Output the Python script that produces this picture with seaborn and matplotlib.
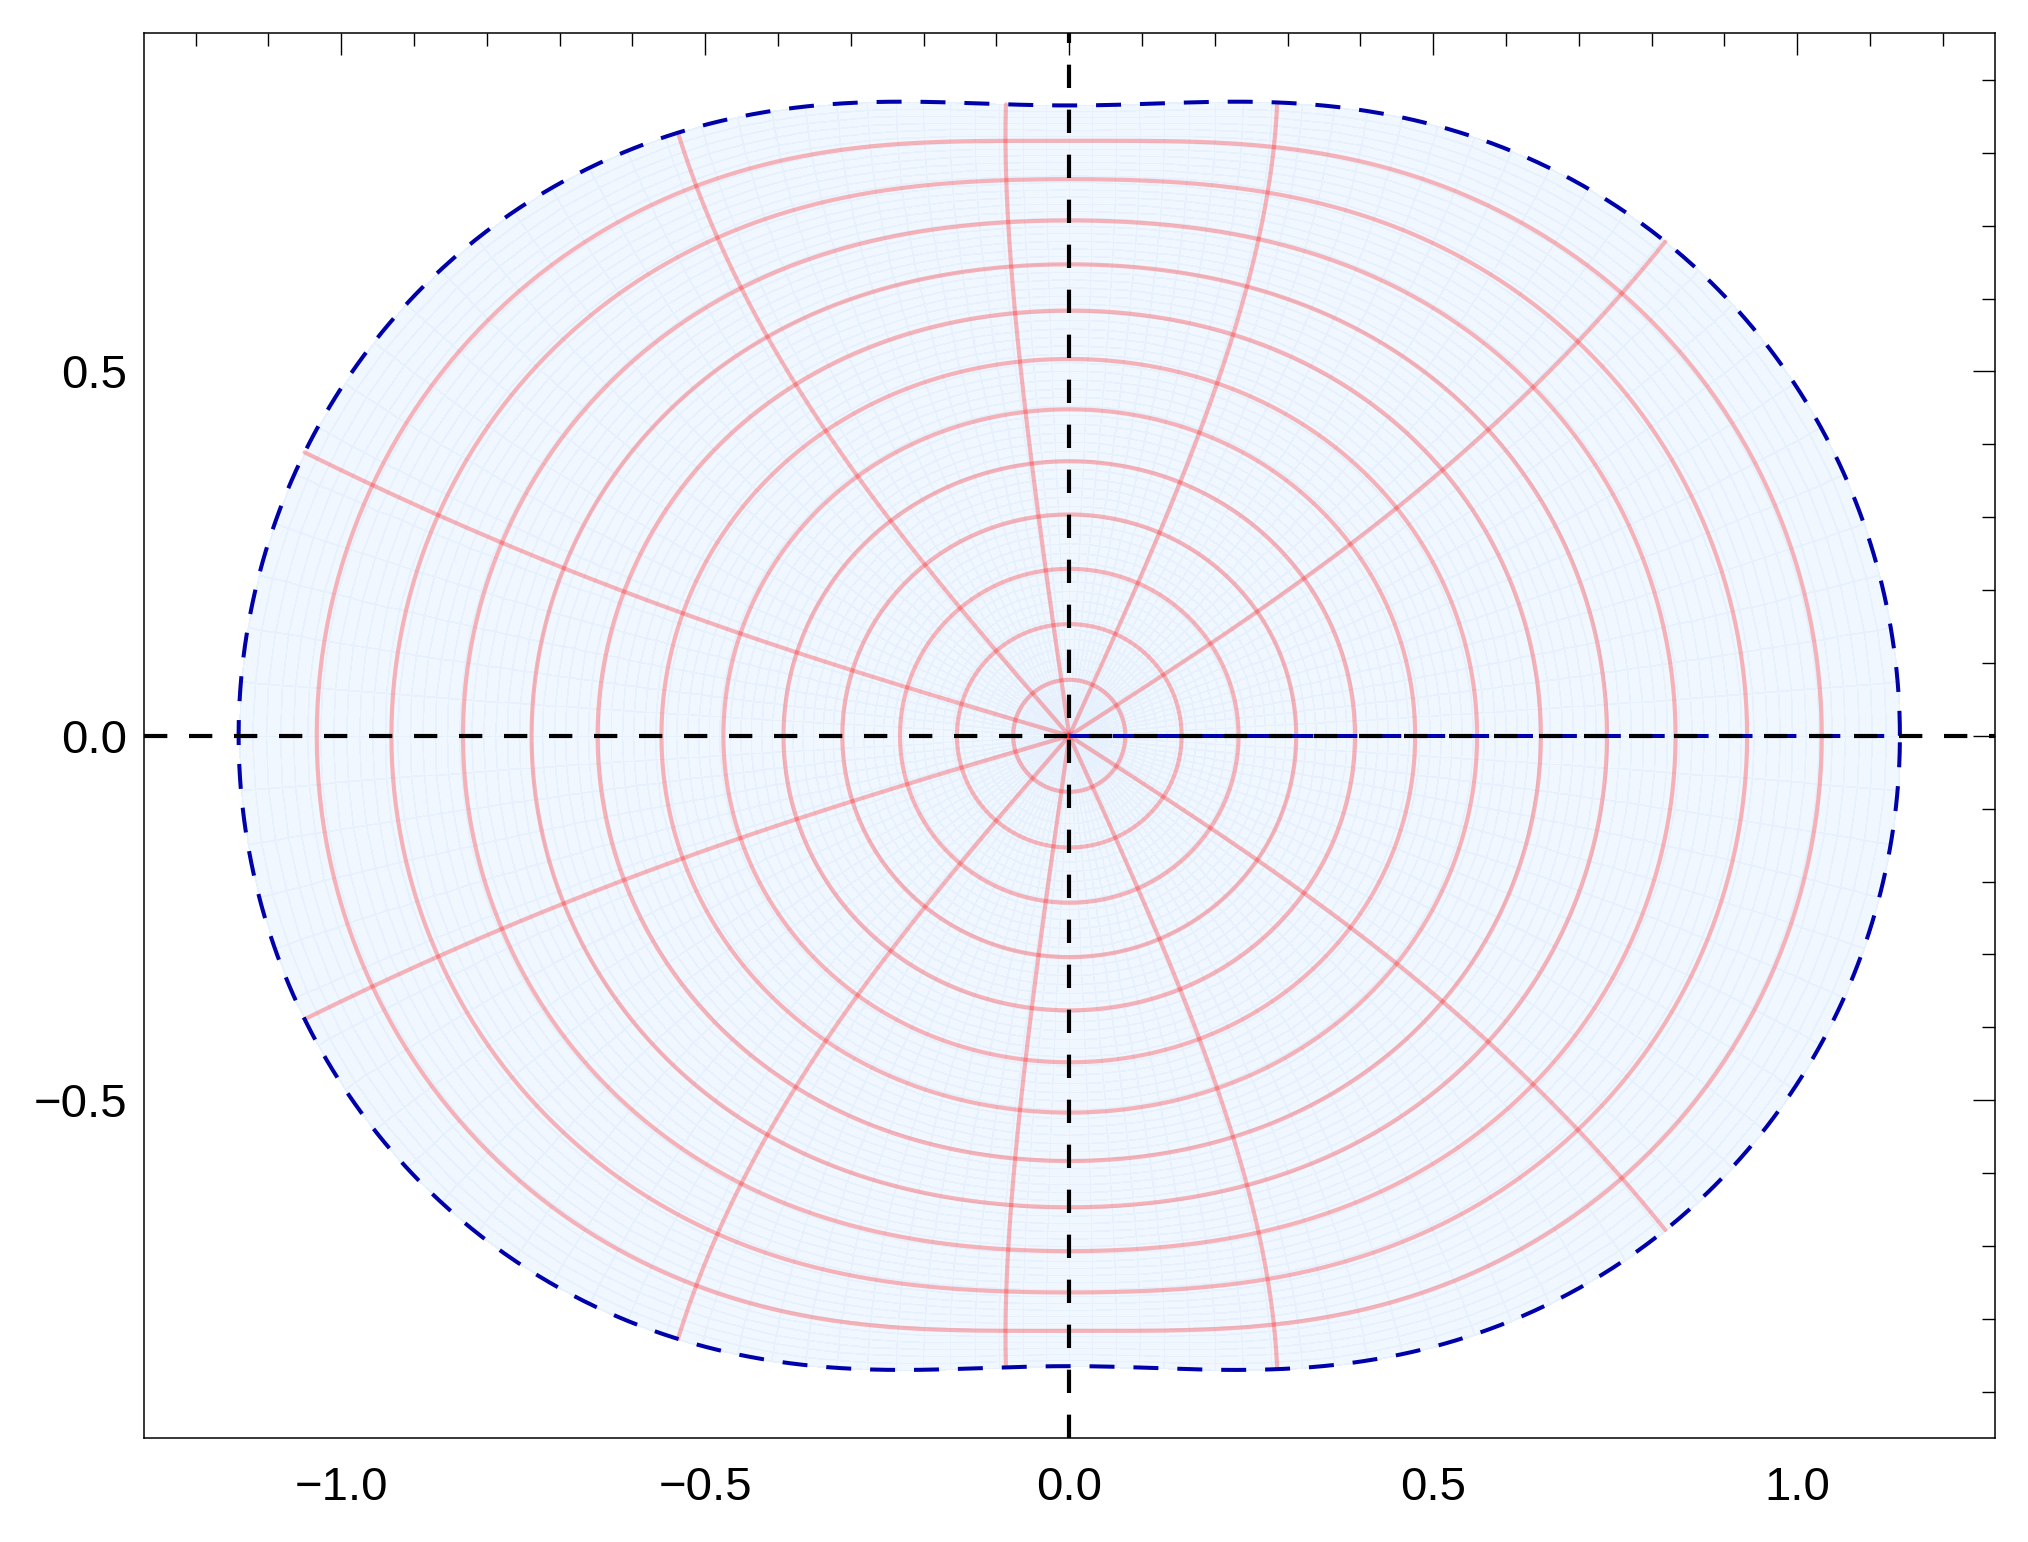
"""Image of the unit disk under a small odd polynomial map, drawn with a polar mesh."""

import numpy as np
import pandas as pd
import seaborn as sns
import matplotlib.pyplot as plt
from matplotlib.colors import ListedColormap
from matplotlib.ticker import MultipleLocator, FuncFormatter

# Map coefficients: f(z) = c1 z + c2 z^2 + ...
MAP_COEFFS = [1.0, 0.0, 0.138, 0.0, 0.003]
# Mesh circles |z| = r and mesh rays arg z = theta
MESH_RADII = [0.0769, 0.1538, 0.2308, 0.3077, 0.3846, 0.4615,
              0.5385, 0.6154, 0.6923, 0.7692, 0.8462, 0.9231]
MESH_ANGLES_DEG = [32.73, 65.45, 98.18, 130.91, 163.64,
                   196.36, 229.09, 261.82, 294.55, 327.27]
X_TICKS = [-1.0, -0.5, 0.0, 0.5, 1.0]
Y_TICKS = [-0.5, 0.0, 0.5]
X_LIMITS = (-1.271, 1.271)
Y_LIMITS = (-0.964, 0.964)

FILL_COLOR = "#F1F7FF"
FILL_EDGE = "#E7F0FD"
MESH_COLOR = "#FF0000"
BOUNDARY_COLOR = "#0000AA"


def mapping(z):
    return sum(c * z ** (k + 1) for k, c in enumerate(MAP_COEFFS))


def fmt(v, _pos):
    return f"{v:.1f}".replace("-", "\u2212")


def build_mesh_frame():
    rows = []
    theta = np.linspace(0, 2 * np.pi, 721)
    for i, r in enumerate(MESH_RADII):
        w = mapping(r * np.exp(1j * theta))
        rows.append(pd.DataFrame({"x": w.real, "y": w.imag, "line": f"c{i}"}))
    rad = np.linspace(0, 1, 301)
    for i, a in enumerate(MESH_ANGLES_DEG):
        w = mapping(rad * np.exp(1j * np.deg2rad(a)))
        rows.append(pd.DataFrame({"x": w.real, "y": w.imag, "line": f"r{i}"}))
    return pd.concat(rows, ignore_index=True)


def main():
    sns.set_style("white")
    plt.rcParams["font.family"] = ["Liberation Sans", "DejaVu Sans"]

    fig = plt.figure(figsize=(20.28, 15.42), dpi=100)
    ax = fig.add_axes([0.0710, 0.06725, 0.9125, 0.91115])

    # filled region with faint sampling grid
    rr, tt = np.meshgrid(np.linspace(0, 1, 76), np.linspace(0, 2 * np.pi, 121))
    ww = mapping(rr * np.exp(1j * tt))
    ax.pcolormesh(ww.real, ww.imag, np.zeros((120, 75)), shading="flat",
                  cmap=ListedColormap([FILL_COLOR]), edgecolors=FILL_EDGE,
                  linewidth=0.45, zorder=1)

    # red polar mesh
    mesh = build_mesh_frame()
    sns.lineplot(data=mesh, x="x", y="y", units="line", estimator=None,
                 sort=False, color=MESH_COLOR, alpha=0.28, linewidth=3.0,
                 legend=False, ax=ax, zorder=2)

    # region boundary (outer curve + seam along theta = 0)
    th = np.linspace(0, 2 * np.pi, 1200)
    edge = mapping(np.exp(1j * th))
    seam = mapping(np.linspace(0, 1, 100).astype(complex))
    ax.plot(edge.real, edge.imag, color=BOUNDARY_COLOR, lw=2.9,
            ls=(0, (6.2, 4.7)), zorder=3)
    ax.plot(seam.real, seam.imag, color=BOUNDARY_COLOR, lw=2.9,
            ls=(0, (6.2, 4.7)), zorder=3)

    # dashed coordinate axes
    ax.axhline(0, color="black", lw=3.0, ls=(0, (5.6, 5.2)), zorder=4)
    ax.axvline(0, color="black", lw=3.0, ls=(0, (5.6, 5.2)), zorder=4)

    ax.set_xlim(*X_LIMITS)
    ax.set_ylim(*Y_LIMITS)
    ax.set_xlabel("")
    ax.set_ylabel("")
    ax.set_xticks(X_TICKS)
    ax.set_yticks(Y_TICKS)
    ax.xaxis.set_minor_locator(MultipleLocator(0.1))
    ax.yaxis.set_minor_locator(MultipleLocator(0.1))
    ax.xaxis.set_major_formatter(FuncFormatter(fmt))
    ax.yaxis.set_major_formatter(FuncFormatter(fmt))
    ax.tick_params(which="both", direction="in", top=True, right=True,
                   labeltop=False, labelright=False, width=1.0, color="black",
                   labelcolor="black", labelsize=34)
    ax.tick_params(which="major", length=15.8)
    ax.tick_params(which="minor", length=9.4)
    ax.tick_params(axis="x", which="major", pad=20)
    ax.tick_params(axis="y", which="major", pad=12)
    for sp in ax.spines.values():
        sp.set_visible(True)
        sp.set_color("black")
        sp.set_linewidth(1.1)

    fig.savefig("out.png", dpi=100)


if __name__ == "__main__":
    main()
